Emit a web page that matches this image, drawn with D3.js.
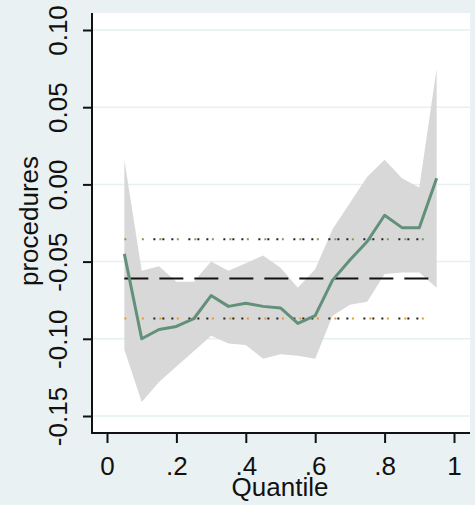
<!DOCTYPE html>
<html>
<head>
<meta charset="utf-8">
<script src="https://cdn.jsdelivr.net/npm/d3@7/dist/d3.min.js"></script>
<style>
  html, body { margin: 0; padding: 0; background: #eaf1f3; }
  svg { display: block; }
  text { font-family: "Liberation Sans", Arial, sans-serif; fill: #111; }
</style>
</head>
<body>
<svg id="chart" width="475" height="505"></svg>
<script>
// Quantile regression coefficient for "procedures" with 95% band,
// plus the OLS estimate (dashed) and its confidence limits (dotted).
const quantiles = [0.05, 0.10, 0.15, 0.20, 0.25, 0.30, 0.35, 0.40, 0.45, 0.50,
                   0.55, 0.60, 0.65, 0.70, 0.75, 0.80, 0.85, 0.90, 0.95];
const coef  = [-0.045, -0.100, -0.094, -0.092, -0.087, -0.072, -0.079, -0.077, -0.079, -0.080,
               -0.090, -0.085, -0.062, -0.049, -0.037, -0.020, -0.028, -0.028, 0.004];
const upper = [0.016, -0.056, -0.053, -0.063, -0.063, -0.050, -0.056, -0.051, -0.046, -0.054,
               -0.067, -0.055, -0.029, -0.012, 0.005, 0.016, 0.004, -0.002, 0.075];
const lower = [-0.107, -0.141, -0.128, -0.118, -0.108, -0.098, -0.103, -0.104, -0.113, -0.110,
               -0.111, -0.113, -0.085, -0.078, -0.076, -0.058, -0.057, -0.057, -0.067];
const olsCoef = -0.061;
const olsLower = -0.0868;
const olsUpper = -0.0356;
const xTicks = [0, 0.2, 0.4, 0.6, 0.8, 1];
const xTickLabels = ["0", ".2", ".4", ".6", ".8", "1"];
const yTicks = [-0.15, -0.10, -0.05, 0.00, 0.05, 0.10];
const yTickLabels = ["-0.15", "-0.10", "-0.05", "0.00", "0.05", "0.10"];

const svg = d3.select("#chart");
const W = 475, H = 505;
const plot = { left: 91, right: 470, top: 13, bottom: 433 };
const fontSize = "26px";

const x = d3.scaleLinear().domain([0, 1]).range([107, 454]);
const y = d3.scaleLinear().domain([-0.15, 0.10]).range([416, 30]);

svg.append("rect").attr("width", W).attr("height", H).attr("fill", "#eaf1f3");
svg.append("rect")
  .attr("x", plot.left).attr("y", plot.top)
  .attr("width", plot.right - plot.left).attr("height", plot.bottom - plot.top)
  .attr("fill", "#ffffff");

// horizontal grid
svg.append("g").selectAll("line").data(yTicks).join("line")
  .attr("x1", plot.left).attr("x2", plot.right)
  .attr("y1", d => y(d)).attr("y2", d => y(d))
  .attr("stroke", "#e6eff2").attr("stroke-width", 1.5);

const rows = quantiles.map((q, i) => ({ q, c: coef[i], lo: lower[i], hi: upper[i] }));

// confidence band
svg.append("path").datum(rows)
  .attr("d", d3.area().x(d => x(d.q)).y0(d => y(d.lo)).y1(d => y(d.hi)))
  .attr("fill", "#d8d8d8");

const xFirst = x(quantiles[0]), xLast = x(quantiles[quantiles.length - 1]);

// OLS confidence limits: dotted, colored dots with dark dots between
function dotted(v, color) {
  const g = svg.append("g");
  g.append("line")
    .attr("x1", xFirst).attr("x2", xLast).attr("y1", y(v)).attr("y2", y(v))
    .attr("stroke", color).attr("stroke-width", 2)
    .attr("stroke-dasharray", "2,15.5");
  g.append("line")
    .attr("x1", xFirst + 29).attr("x2", xLast - 4).attr("y1", y(v)).attr("y2", y(v))
    .attr("stroke", "#222").attr("stroke-width", 2)
    .attr("stroke-dasharray", "2,7,2,7,2,15");
}
dotted(olsUpper, "#7aa04f");
dotted(olsLower, "#f0962a");

// OLS estimate: long dashes
svg.append("line")
  .attr("x1", xFirst).attr("x2", xLast).attr("y1", y(olsCoef)).attr("y2", y(olsCoef))
  .attr("stroke", "#111").attr("stroke-width", 2)
  .attr("stroke-dasharray", "24,11");

// quantile coefficients
svg.append("path").datum(rows)
  .attr("d", d3.line().x(d => x(d.q)).y(d => y(d.c)))
  .attr("fill", "none").attr("stroke", "#62907a").attr("stroke-width", 3)
  .attr("stroke-linejoin", "round");

// axes
const yAxis = d3.axisLeft(y).tickValues(yTicks).tickFormat((d, i) => yTickLabels[i])
  .tickSize(9).tickPadding(0);
const gy = svg.append("g").attr("transform", `translate(${plot.left + 1},0)`).call(yAxis);
gy.select(".domain").attr("d", `M0,${plot.top}V${plot.bottom}`)
  .attr("stroke", "#111").attr("stroke-width", 2);
gy.selectAll(".tick line").attr("stroke", "#111").attr("stroke-width", 2);
gy.selectAll(".tick text")
  .attr("x", 0).attr("dy", null).attr("text-anchor", "middle")
  .attr("transform", "translate(-25,0) rotate(-90)")
  .attr("y", 0)
  .style("font-size", fontSize).attr("fill", "#111");

const xAxis = d3.axisBottom(x).tickValues(xTicks).tickFormat((d, i) => xTickLabels[i])
  .tickSize(10);
const gx = svg.append("g").attr("transform", `translate(0,${plot.bottom})`).call(xAxis);
gx.select(".domain").attr("d", `M${plot.left},0H${plot.right}`)
  .attr("stroke", "#111").attr("stroke-width", 2);
gx.selectAll(".tick line").attr("stroke", "#111").attr("stroke-width", 2);
gx.selectAll(".tick text").attr("dy", null).attr("y", 42)
  .style("font-size", fontSize).attr("fill", "#111");
svg.selectAll(".domain").attr("fill", "none");

svg.append("text")
  .attr("x", 280).attr("y", 496).attr("text-anchor", "middle")
  .style("font-size", fontSize).text("Quantile");

svg.append("text")
  .attr("transform", "translate(38,221) rotate(-90)")
  .attr("text-anchor", "middle")
  .style("font-size", fontSize).text("procedures");
</script>
</body>
</html>
